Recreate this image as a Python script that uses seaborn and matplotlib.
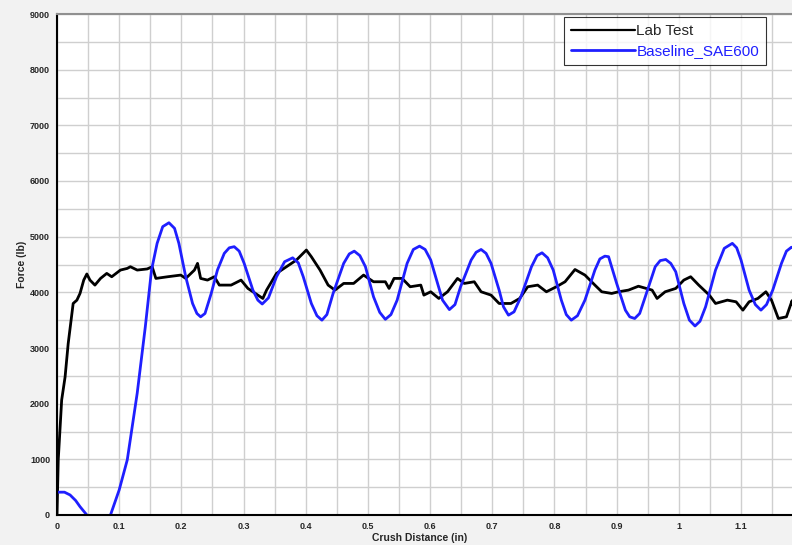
import matplotlib
matplotlib.use("Agg")
import matplotlib.pyplot as plt
from matplotlib.ticker import MultipleLocator
import seaborn as sns
import pandas as pd

# Lab Test (black)
lab_x = [0.0, 0.002, 0.0075, 0.013, 0.018, 0.026, 0.032, 0.037, 0.043, 0.048,
         0.053, 0.061, 0.070, 0.080, 0.088, 0.102, 0.113, 0.118, 0.129, 0.145,
         0.153, 0.159, 0.178, 0.199, 0.207, 0.221, 0.226, 0.231, 0.242, 0.253,
         0.261, 0.280, 0.296, 0.307, 0.323, 0.331, 0.337, 0.353, 0.369, 0.385,
         0.401, 0.409, 0.423, 0.436, 0.447, 0.461, 0.477, 0.493, 0.509, 0.528,
         0.534, 0.542, 0.555, 0.568, 0.585, 0.590, 0.601, 0.614, 0.628, 0.644,
         0.655, 0.671, 0.682, 0.698, 0.711, 0.730, 0.744, 0.757, 0.773, 0.787,
         0.803, 0.817, 0.833, 0.849, 0.865, 0.876, 0.892, 0.903, 0.919, 0.935,
         0.957, 0.965, 0.978, 0.995, 1.008, 1.019, 1.032, 1.049, 1.059, 1.078,
         1.092, 1.103, 1.113, 1.127, 1.140, 1.149, 1.160, 1.173, 1.182, 1.188]
lab_y = [0, 990, 2065, 2480, 3080, 3800, 3860, 3980, 4220, 4330,
         4220, 4130, 4250, 4340, 4280, 4400, 4430, 4460, 4400, 4420,
         4460, 4250, 4280, 4310, 4250, 4400, 4520, 4250, 4220, 4280,
         4130, 4130, 4220, 4070, 3950, 3890, 4040, 4340, 4460, 4580,
         4760, 4640, 4400, 4130, 4040, 4160, 4160, 4310, 4190, 4190,
         4070, 4250, 4250, 4100, 4130, 3950, 4010, 3890, 4010, 4250,
         4160, 4190, 4010, 3950, 3800, 3800, 3890, 4100, 4130, 4010,
         4100, 4190, 4410, 4310, 4130, 4010, 3980, 4010, 4040, 4110,
         4040, 3890, 4010, 4070, 4220, 4280, 4130, 3950, 3800, 3860,
         3830, 3680, 3830, 3890, 4010, 3860, 3530, 3560, 3850, 3560]

# Baseline_SAE600 (blue)
base_x = [0.0, 0.012, 0.021, 0.030, 0.037, 0.048, 0.067, 0.086, 0.100, 0.113,
          0.129, 0.142, 0.152, 0.161, 0.170, 0.180, 0.189, 0.196, 0.207, 0.218,
          0.225, 0.231, 0.238, 0.248, 0.258, 0.269, 0.277, 0.285, 0.293, 0.301,
          0.315, 0.323, 0.330, 0.340, 0.353, 0.366, 0.379, 0.388, 0.396, 0.409,
          0.418, 0.426, 0.434, 0.444, 0.461, 0.470, 0.478, 0.487, 0.496, 0.509,
          0.519, 0.528, 0.537, 0.547, 0.563, 0.573, 0.583, 0.592, 0.601, 0.612,
          0.620, 0.631, 0.640, 0.649, 0.666, 0.674, 0.682, 0.690, 0.698, 0.711,
          0.718, 0.726, 0.735, 0.746, 0.763, 0.772, 0.780, 0.789, 0.798, 0.811,
          0.819, 0.827, 0.837, 0.849, 0.865, 0.873, 0.881, 0.887, 0.900, 0.914,
          0.921, 0.929, 0.937, 0.946, 0.962, 0.970, 0.979, 0.987, 0.995, 1.008,
          1.017, 1.026, 1.034, 1.043, 1.059, 1.073, 1.086, 1.093, 1.100, 1.113,
          1.123, 1.132, 1.141, 1.151, 1.165, 1.173, 1.181, 1.189]
base_y = [410, 410, 360, 260, 150, 0, -250, 0, 450, 990,
          2190, 3380, 4400, 4880, 5180, 5250, 5150, 4880, 4280, 3800,
          3620, 3560, 3620, 3980, 4400, 4700, 4800, 4820, 4740, 4520,
          4040, 3860, 3790, 3900, 4280, 4550, 4620, 4530, 4280, 3800,
          3580, 3500, 3600, 3980, 4520, 4690, 4740, 4660, 4460, 3920,
          3640, 3515, 3600, 3860, 4520, 4770, 4830, 4770, 4580, 4160,
          3860, 3690, 3780, 4100, 4580, 4720, 4770, 4700, 4520, 4040,
          3740, 3590, 3650, 3920, 4460, 4660, 4710, 4620, 4400, 3860,
          3600, 3500, 3580, 3860, 4400, 4600, 4650, 4640, 4160, 3680,
          3560, 3530, 3620, 3920, 4460, 4570, 4590, 4520, 4370, 3800,
          3500, 3395, 3480, 3740, 4400, 4790, 4880, 4800, 4580, 4040,
          3780, 3680, 3780, 4040, 4520, 4740, 4810, 4770]

x_ticks = [0, 0.1, 0.2, 0.3, 0.4, 0.5, 0.6, 0.7, 0.8, 0.9, 1.0, 1.1]
x_labels = ["0", "0.1", "0.2", "0.3", "0.4", "0.5", "0.6", "0.7", "0.8", "0.9", "1", "1.1"]
y_ticks = [0, 1000, 2000, 3000, 4000, 5000, 6000, 7000, 8000, 9000]

df = pd.concat([
    pd.DataFrame({"x": lab_x, "y": lab_y, "Series": "Lab Test"}),
    pd.DataFrame({"x": base_x, "y": base_y, "Series": "Baseline_SAE600"}),
], ignore_index=True)

sns.set_style("white")
plt.rcParams["font.family"] = ["Liberation Sans", "DejaVu Sans"]

fig = plt.figure(figsize=(7.92, 5.45), dpi=100, facecolor="#f2f2f2")
ax = fig.add_axes([57 / 792, 30 / 545, 740 / 792, 501 / 545])
ax.set_facecolor("white")

sns.lineplot(data=df, x="x", y="y", hue="Series", sort=False, estimator=None,
             palette={"Lab Test": "black", "Baseline_SAE600": "#1f1fff"},
             linewidth=2, ax=ax)
for ln in ax.get_lines():
    if ln.get_label() == "Lab Test":
        ln.set_linewidth(1.6)

ax.set_xlim(0, 1.19)
ax.set_ylim(0, 9000)
ax.set_xticks(x_ticks)
ax.set_xticklabels(x_labels)
ax.set_yticks(y_ticks)
ax.xaxis.set_minor_locator(MultipleLocator(0.05))
ax.yaxis.set_minor_locator(MultipleLocator(500))
ax.grid(True, which="both", color="#cfcfcf", linewidth=1)
ax.set_axisbelow(True)

ax.tick_params(axis="both", which="major", labelsize=6.5, length=3, width=1,
               direction="out", color="black", pad=2)
ax.tick_params(axis="both", which="minor", length=0)
for lab in ax.get_xticklabels() + ax.get_yticklabels():
    lab.set_fontweight("bold")

for side in ["left", "bottom"]:
    ax.spines[side].set_color("black")
    ax.spines[side].set_linewidth(1.5)
ax.spines["top"].set_color("#909090")
ax.spines["top"].set_linewidth(1.5)
ax.spines["right"].set_visible(False)

ax.set_xlabel("Crush Distance (in)", fontsize=7.5, fontweight="bold", labelpad=1)
ax.set_ylabel("Force (lb)", fontsize=7.5, fontweight="bold", labelpad=2)
ax.xaxis.set_label_coords((420 - 57) / 740, -0.035)

leg = ax.legend(loc="upper right", bbox_to_anchor=((766 - 57) / 740, (515 - 17) / 501),
                fontsize=11, frameon=True, fancybox=False, handlelength=4.2,
                borderpad=0.45, labelspacing=0.4, handletextpad=0.1,
                borderaxespad=0)
leg.get_frame().set_edgecolor("black")
leg.get_frame().set_linewidth(0.8)
leg.get_texts()[1].set_color("#1f1fff")

fig.savefig("out.png", dpi=100, facecolor=fig.get_facecolor())
